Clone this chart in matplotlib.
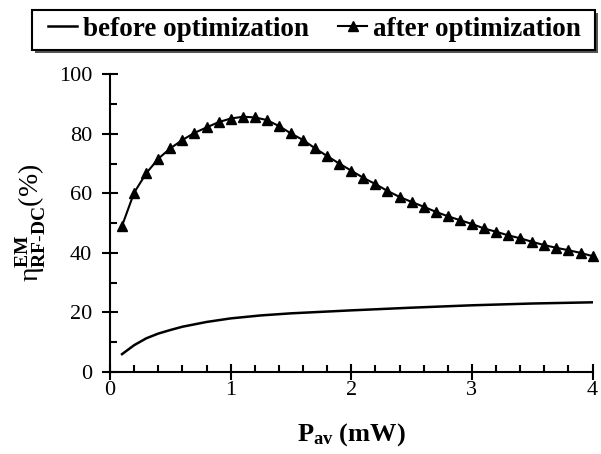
import matplotlib
matplotlib.use("Agg")
import matplotlib.pyplot as plt
from matplotlib.ticker import MultipleLocator
from matplotlib.patches import Rectangle
import numpy as np

# Data
after_x = [0.1, 0.2, 0.3, 0.4, 0.5, 0.6, 0.7, 0.8, 0.9, 1.0,
           1.1, 1.2, 1.3, 1.4, 1.5, 1.6, 1.7, 1.8, 1.9, 2.0,
           2.1, 2.2, 2.3, 2.4, 2.5, 2.6, 2.7, 2.8, 2.9, 3.0,
           3.1, 3.2, 3.3, 3.4, 3.5, 3.6, 3.7, 3.8, 3.9, 4.0]
after_y = [49.1, 60.2, 66.7, 71.6, 75.1, 77.9, 80.3, 82.1, 83.9, 85.1,
           85.7, 85.5, 84.6, 82.6, 80.1, 77.9, 75.1, 72.5, 70.0, 67.6,
           65.2, 63.1, 60.8, 58.8, 57.1, 55.5, 53.8, 52.3, 51.0, 49.7,
           48.2, 47.1, 45.9, 44.9, 43.7, 42.6, 41.7, 40.9, 40.0, 38.9]
before_x = [0.1, 0.2, 0.3, 0.4, 0.5, 0.6, 0.8, 1.0, 1.25, 1.5, 2.0, 2.5, 3.0, 3.5, 4.0]
before_y = [6.0, 9.0, 11.3, 12.9, 14.1, 15.2, 16.8, 18.0, 19.0, 19.7, 20.7, 21.6, 22.4, 23.0, 23.4]

xticks = [0, 1, 2, 3, 4]
yticks = [0, 20, 40, 60, 80, 100]

plt.rcParams['font.family'] = ['Liberation Serif', 'DejaVu Serif']
plt.rcParams['mathtext.fontset'] = 'custom'
plt.rcParams['mathtext.rm'] = 'Liberation Serif'
plt.rcParams['mathtext.it'] = 'Liberation Serif:italic'
plt.rcParams['mathtext.bf'] = 'Liberation Serif:bold'

W, H = 601, 454
fig = plt.figure(figsize=(W / 100, H / 100), dpi=100)
ax = fig.add_axes([0.183, 0.1806, 0.803, 0.656])

l1, = ax.plot(before_x, before_y, color='black', lw=1.8, label='before optimization')
l2, = ax.plot(after_x, after_y, color='black', lw=1.5, marker='^', markersize=7,
              label='after optimization', clip_on=False)

ax.set_xlim(0, 4)
ax.set_ylim(0, 100)
ax.set_xticks(xticks)
ax.set_yticks(yticks)
ax.xaxis.set_minor_locator(MultipleLocator(0.2))
ax.yaxis.set_minor_locator(MultipleLocator(10))
for s in ['top', 'right']:
    ax.spines[s].set_visible(False)
for s in ['left', 'bottom']:
    ax.spines[s].set_linewidth(1.5)
ax.tick_params(which='major', direction='inout', length=11.5, width=1.5, labelsize=16)
ax.tick_params(which='minor', direction='in', length=5, width=1.5)
ax.tick_params(axis='x', which='major', pad=1)
ax.tick_params(axis='y', which='major', pad=7)

ax.set_xlabel(r'$\mathbf{P_{av}}$ $\mathbf{(mW)}$', fontsize=19, labelpad=15)
ax.set_ylabel(r'$\mathrm{\eta}^{\mathbf{EM}}_{\mathbf{RF\text{-}DC}}(\mathit{\%})$', fontsize=20, labelpad=8)

# legend box (frame drawn separately to get the reference padding)
bx0, by0, bx1, by1 = 32, 10, 595, 50
fig.patches.append(Rectangle(((bx0 + 3) / W, 1 - (by1 + 3) / H), (bx1 - bx0) / W, (by1 - by0) / H,
                             transform=fig.transFigure, facecolor='#555555', edgecolor='none', zorder=1))
fig.patches.append(Rectangle((bx0 / W, 1 - by1 / H), (bx1 - bx0) / W, (by1 - by0) / H,
                             transform=fig.transFigure, facecolor='white', edgecolor='black',
                             linewidth=1.5, zorder=2))
leg = fig.legend(handles=[l1, l2], loc='center', bbox_to_anchor=(314.5 / W, 1 - 29 / H),
                 ncol=2, frameon=False, prop={'weight': 'bold', 'size': 19.5},
                 handlelength=1.08, handletextpad=0.22, columnspacing=1.08,
                 borderpad=0, borderaxespad=0)
leg.set_zorder(3)

fig.savefig('out.png', dpi=100)
